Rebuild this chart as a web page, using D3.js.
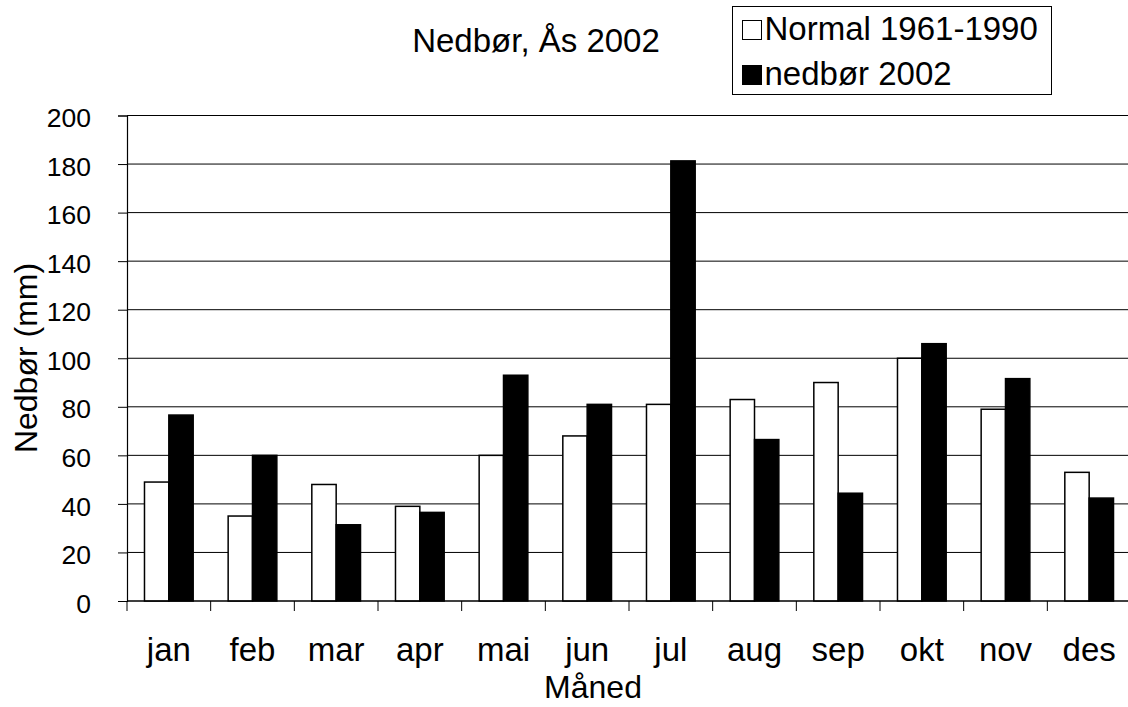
<!DOCTYPE html>
<html>
<head>
<meta charset="utf-8">
<script src="https://cdn.jsdelivr.net/npm/d3@7"></script>
<style>
  html, body { margin: 0; padding: 0; background: #fff; overflow: hidden; }
  svg { display: block; font-family: "Liberation Sans", Arial, sans-serif; }
</style>
</head>
<body>
<svg id="chart" width="1128" height="707"></svg>
<script>
// Monthly precipitation at Ås: 1961-1990 normal vs. 2002 (mm)
const months = ["jan", "feb", "mar", "apr", "mai", "jun", "jul", "aug", "sep", "okt", "nov", "des"];
const normal = [49, 35, 48, 39, 60, 68, 81, 83, 90, 100, 79, 53];
const precip2002 = [76.6, 60, 31.4, 36.5, 93, 81, 181.3, 66.5, 44.4, 106, 91.6, 42.4];
const seriesNames = ["Normal 1961-1990", "nedbør 2002"];
const seriesFill = ["#ffffff", "#000000"];
const yTicks = [0, 20, 40, 60, 80, 100, 120, 140, 160, 180, 200];

const svg = d3.select("#chart");

const plot = { left: 127, right: 1131, top: 115.5, bottom: 601 };

const x = d3.scaleBand()
  .domain(months)
  .range([plot.left, plot.right])
  .paddingInner(0.418)
  .paddingOuter(0.209);

const xSub = d3.scaleBand()
  .domain([0, 1])
  .range([0, x.bandwidth()]);

const y = d3.scaleLinear()
  .domain([0, 200])
  .range([plot.bottom, plot.top]);

// horizontal gridlines
svg.append("g")
  .selectAll("line")
  .data(yTicks)
  .join("line")
  .attr("x1", plot.left)
  .attr("x2", plot.right)
  .attr("y1", d => y(d))
  .attr("y2", d => y(d))
  .attr("stroke", "#000")
  .attr("stroke-width", 1);

// bars
const rows = months.map((m, i) => ({ month: m, values: [normal[i], precip2002[i]] }));
const groups = svg.append("g")
  .selectAll("g")
  .data(rows)
  .join("g")
  .attr("transform", d => `translate(${x(d.month)},0)`);

groups.selectAll("rect")
  .data(d => d.values.map((v, s) => ({ v, s })))
  .join("rect")
  .attr("x", d => xSub(d.s))
  .attr("width", xSub.bandwidth())
  .attr("y", d => y(d.v))
  .attr("height", d => y(0) - y(d.v))
  .attr("fill", d => seriesFill[d.s])
  .attr("stroke", "#000")
  .attr("stroke-width", 1.5);

// y axis
const yAxis = svg.append("g")
  .attr("transform", `translate(${plot.left},0)`)
  .call(d3.axisLeft(y).tickValues(yTicks).tickSize(9).tickPadding(27));
yAxis.select(".domain").attr("stroke", "#000").attr("stroke-width", 1.2);
yAxis.selectAll(".tick line").attr("stroke", "#000");
yAxis.selectAll(".tick text")
  .attr("font-size", 26.5)
  .attr("font-family", "Liberation Sans, Arial, sans-serif")
  .attr("fill", "#000")
  .attr("dy", "0.42em");

// x axis: ticks at category boundaries
svg.append("line")
  .attr("x1", plot.left).attr("x2", plot.right)
  .attr("y1", plot.bottom).attr("y2", plot.bottom)
  .attr("stroke", "#000").attr("stroke-width", 1.2);

const boundaries = months.map(m => x(m) - x.step() * x.paddingInner() / 2);
boundaries.push(plot.right);
svg.append("g")
  .selectAll("line")
  .data(boundaries)
  .join("line")
  .attr("x1", d => d).attr("x2", d => d)
  .attr("y1", plot.bottom).attr("y2", plot.bottom + 10)
  .attr("stroke", "#000");

svg.append("g")
  .selectAll("text")
  .data(months)
  .join("text")
  .attr("x", d => x(d) + x.bandwidth() / 2)
  .attr("y", 661)
  .attr("text-anchor", "middle")
  .attr("font-size", 33)
  .text(d => d);

// axis titles
svg.append("text")
  .attr("x", 593)
  .attr("y", 698)
  .attr("text-anchor", "middle")
  .attr("font-size", 32)
  .text("Måned");

svg.append("text")
  .attr("transform", "translate(37,358) rotate(-90)")
  .attr("text-anchor", "middle")
  .attr("font-size", 32)
  .text("Nedbør (mm)");

// chart title
svg.append("text")
  .attr("x", 536)
  .attr("y", 52)
  .attr("text-anchor", "middle")
  .attr("font-size", 33)
  .text("Nedbør, Ås 2002");

// legend
const legend = svg.append("g");
legend.append("rect")
  .attr("x", 732.5).attr("y", 6.5)
  .attr("width", 319).attr("height", 88)
  .attr("fill", "#fff")
  .attr("stroke", "#000")
  .attr("stroke-width", 1);

const legendRows = [0, 1];
const legendY = d3.scalePoint().domain(legendRows).range([20.5, 65.5]);
const item = legend.selectAll("g.item")
  .data(legendRows)
  .join("g")
  .attr("class", "item")
  .attr("transform", d => `translate(742.5,${legendY(d)})`);
item.append("rect")
  .attr("width", 19).attr("height", 19)
  .attr("fill", d => seriesFill[d])
  .attr("stroke", "#000")
  .attr("stroke-width", 1);
item.append("text")
  .attr("x", 22)
  .attr("y", 19)
  .attr("font-size", 33)
  .text(d => seriesNames[d]);
</script>
</body>
</html>
